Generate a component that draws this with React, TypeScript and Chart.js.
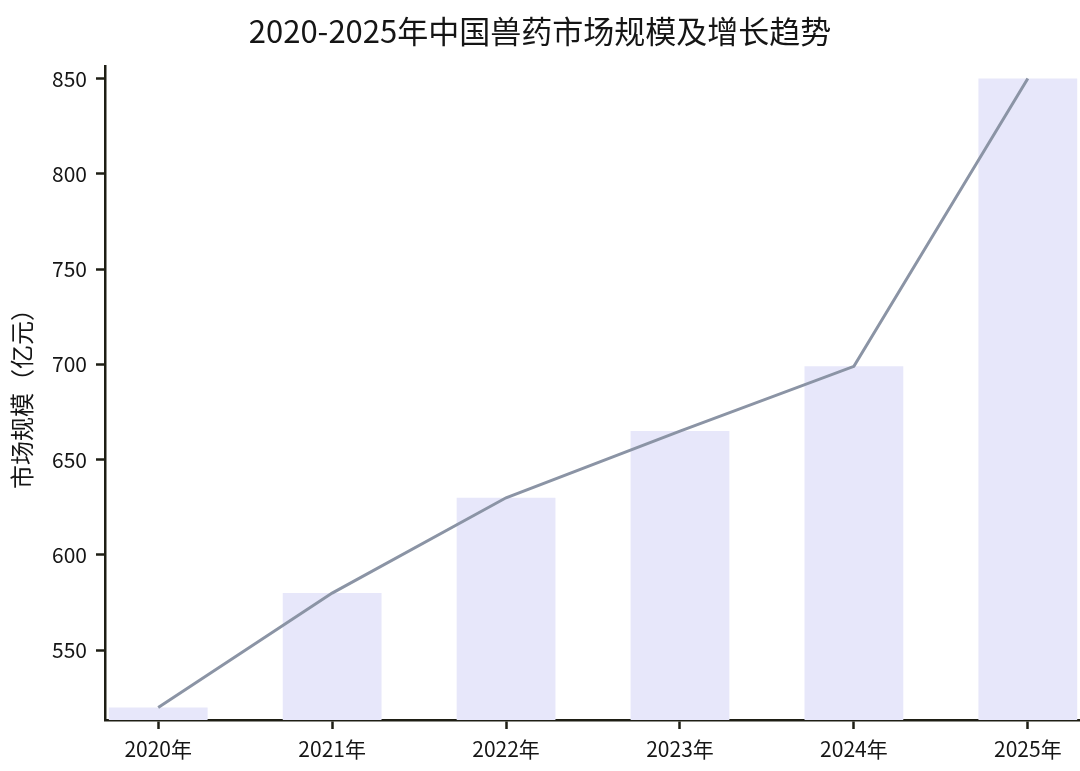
import React, { useEffect, useRef } from "react";
import { Chart, registerables } from "chart.js";

Chart.register(...registerables);

const TITLE = "2020-2025年中国兽药市场规模及增长趋势";
const Y_TITLE = "市场规模（亿元）";
const years = ["2020年", "2021年", "2022年", "2023年", "2024年", "2025年"];
const marketSize = [520, 580, 630, 665, 699, 850];
const yTicks = [550, 600, 650, 700, 750, 800, 850];

const Y_MIN = 513.4;
const Y_MAX = 856.6;
const X_MIN = -0.306;
const X_MAX = 5.3;

const FONT = "'Noto Sans CJK SC', 'Noto Sans', sans-serif";
const AXIS_COLOR = "#1e1e14";
const TEXT_COLOR = "#151515";

export default function App() {
  const ref = useRef<HTMLCanvasElement | null>(null);

  useEffect(() => {
    if (!ref.current) return;
    const points = marketSize.map((v, i) => ({ x: i, y: v }));
    const chart = new Chart(ref.current, {
      data: {
        datasets: [
          {
            type: "line",
            data: points,
            borderColor: "#8b94a5",
            borderWidth: 3,
            pointRadius: 0,
            tension: 0,
            order: 0,
          },
          {
            type: "bar",
            data: points,
            backgroundColor: "#e7e7fa",
            borderWidth: 0,
            barPercentage: 0.568,
            categoryPercentage: 1,
            order: 1,
          },
        ],
      } as any,
      options: {
        animation: false,
        responsive: true,
        maintainAspectRatio: false,
        layout: { padding: { left: 0, right: 0, top: 0, bottom: 0 } },
        plugins: {
          legend: { display: false },
          tooltip: { enabled: false },
          title: {
            display: true,
            text: TITLE,
            color: TEXT_COLOR,
            font: { family: FONT, size: 31, weight: "normal" as any, lineHeight: 1.2 },
            padding: { top: 13, bottom: 15.8 },
          },
        },
        scales: {
          x: {
            type: "linear",
            min: X_MIN,
            max: X_MAX,
            offset: false,
            afterBuildTicks: (s: any) => {
              s.ticks = years.map((_, i) => ({ value: i }));
            },
            afterFit: (s: any) => {
              s.height = 51;
            },
            ticks: {
              autoSkip: false,
              maxRotation: 0,
              padding: 7,
              color: TEXT_COLOR,
              font: { family: FONT, size: 21 },
              callback: (v: any) => years[Math.round(Number(v))] ?? "",
            },
            grid: {
              display: true,
              offset: false,
              drawOnChartArea: false,
              drawTicks: true,
              tickLength: 9,
              tickWidth: 2.5,
              tickColor: AXIS_COLOR,
            },
            border: { display: true, color: AXIS_COLOR, width: 2.5 },
          },
          y: {
            type: "linear",
            min: Y_MIN,
            max: Y_MAX,
            afterBuildTicks: (s: any) => {
              s.ticks = yTicks.map((v) => ({ value: v }));
            },
            afterFit: (s: any) => {
              s.width = 105;
            },
            ticks: {
              padding: 9,
              color: TEXT_COLOR,
              font: { family: FONT, size: 21 },
            },
            grid: {
              display: true,
              offset: false,
              drawOnChartArea: false,
              drawTicks: true,
              tickLength: 9,
              tickWidth: 2.5,
              tickColor: AXIS_COLOR,
            },
            border: { display: true, color: AXIS_COLOR, width: 2.5 },
            title: {
              display: true,
              text: Y_TITLE,
              color: TEXT_COLOR,
              font: { family: FONT, size: 24, lineHeight: 1.2 },
              padding: { top: 7.6, bottom: 0 },
            },
          },
        },
      },
    });
    return () => chart.destroy();
  }, []);

  return (
    <div style={{ position: "absolute", left: 0, top: 0, width: 1080, height: 771, background: "#fff" }}>
      <canvas ref={ref} />
    </div>
  );
}
